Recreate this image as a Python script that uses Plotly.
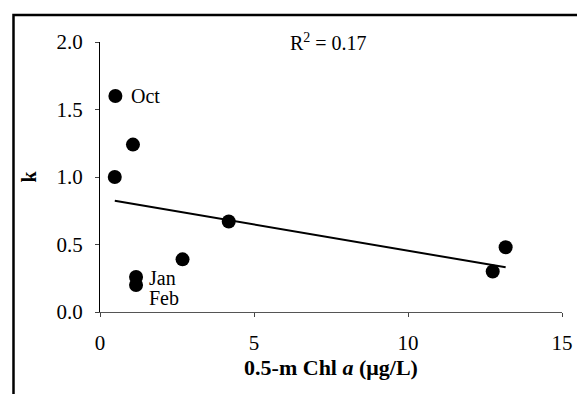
import numpy as np
import plotly.graph_objects as go

# Data
chl = [0.50, 1.07, 0.48, 1.17, 1.17, 2.68, 4.18, 12.75, 13.17]
k = [1.60, 1.24, 1.00, 0.26, 0.20, 0.39, 0.67, 0.30, 0.48]
point_labels = ["Oct", "", "", "Jan", "Feb", "", "", "", ""]
x_ticks = [0, 5, 10, 15]
y_ticks = [0.0, 0.5, 1.0, 1.5, 2.0]
y_tick_text = ["0.0", "0.5", "1.0", "1.5", "2.0"]
r2_text = "R<sup>2</sup> = 0.17"

slope, intercept = np.polyfit(chl, k, 1)
trend_x = [min(chl), max(chl)]
trend_y = [slope * v + intercept for v in trend_x]

FONT = "Liberation Serif, Times New Roman, serif"
FS = 20
TICK_FS = 21
TITLE_FS = 22

fig = go.Figure()
fig.add_trace(go.Scatter(x=trend_x, y=trend_y, mode="lines",
                         line=dict(color="black", width=2), showlegend=False))
fig.add_trace(go.Scatter(x=chl, y=k, mode="markers",
                         marker=dict(color="black", size=14), showlegend=False))

label_offsets = {"Oct": (14, 0), "Jan": (11, -1), "Feb": (11, -13)}
for xv, yv, lab in zip(chl, k, point_labels):
    if not lab:
        continue
    dx, dy = label_offsets[lab]
    fig.add_annotation(x=xv, y=yv, text=lab, showarrow=False, xanchor="left",
                       yanchor="middle", xshift=dx, yshift=dy,
                       font=dict(family=FONT, size=FS, color="black"))

fig.add_annotation(x=0.5, y=1.0, xref="paper", yref="paper", text=r2_text,
                   showarrow=False, xanchor="center", yanchor="middle",
                   xshift=-3, font=dict(family=FONT, size=FS, color="black"))

# outer frame (left and top edges)
fig.add_shape(type="path", xref="paper", yref="paper",
              path=f"M {-88/470},{-120/270} L {-88/470},{1 + 27/270} L {540/470},{1 + 27/270}",
              line=dict(color="black", width=2.5), layer="above")

fig.update_layout(
    width=577, height=386,
    margin=dict(l=92, r=15, t=34, b=82),
    paper_bgcolor="white", plot_bgcolor="white",
    font=dict(family=FONT, size=FS, color="black"),
    xaxis=dict(range=[0, 15], tickvals=x_ticks, ticks="outside", ticklen=4,
               showline=True, linecolor="#555", linewidth=1, showgrid=False,
               zeroline=False, tickfont=dict(size=TICK_FS), ticklabelstandoff=8,
               title=dict(text="<b>0.5-m Chl <i>a</i> (μg/L)</b>", standoff=0,
                          font=dict(size=TITLE_FS))),
    yaxis=dict(range=[0, 2], tickvals=y_ticks, ticktext=y_tick_text, ticks="outside",
               ticklen=4, showline=True, linecolor="black", linewidth=1,
               showgrid=False, zeroline=False, tickfont=dict(size=TICK_FS),
               ticklabelstandoff=8,
               title=dict(text="<b>k</b>", standoff=14, font=dict(size=FS))),
)

fig.write_html("out.html")
